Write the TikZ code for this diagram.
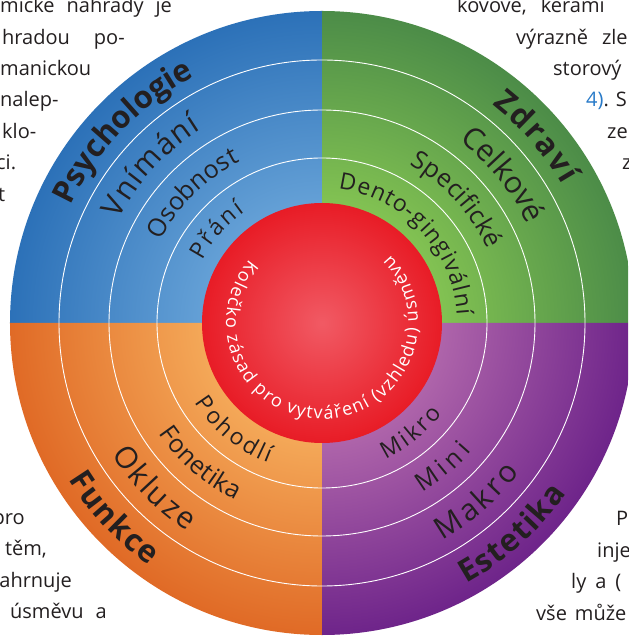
\documentclass[tikz,border=0pt]{standalone}
\usepackage{fontspec}
\setmainfont{Open Sans}
\usetikzlibrary{decorations.text}

\definecolor{psychout}{RGB}{44,113,184}
\definecolor{psychin}{RGB}{100,160,214}
\definecolor{zdraviout}{RGB}{76,140,72}
\definecolor{zdraviin}{RGB}{130,194,82}
\definecolor{funkceout}{RGB}{224,106,38}
\definecolor{funkcein}{RGB}{244,168,88}
\definecolor{estetout}{RGB}{110,36,138}
\definecolor{estetin}{RGB}{174,100,170}
\definecolor{kolout}{RGB}{232,28,38}
\definecolor{kolin}{RGB}{241,90,100}
\definecolor{textgray}{RGB}{35,31,32}
\definecolor{refblue}{RGB}{40,122,200}

\pgfdeclareradialshading{psychshade}{\pgfpointorigin}{color(0bp)=(psychin); color(9.6bp)=(psychin); color(25bp)=(psychout); color(50bp)=(psychout)}
\pgfdeclareradialshading{zdravishade}{\pgfpointorigin}{color(0bp)=(zdraviin); color(9.6bp)=(zdraviin); color(25bp)=(zdraviout); color(50bp)=(zdraviout)}
\pgfdeclareradialshading{funkceshade}{\pgfpointorigin}{color(0bp)=(funkcein); color(9.6bp)=(funkcein); color(25bp)=(funkceout); color(50bp)=(funkceout)}
\pgfdeclareradialshading{estetshade}{\pgfpointorigin}{color(0bp)=(estetin); color(9.6bp)=(estetin); color(25bp)=(estetout); color(50bp)=(estetout)}
\pgfdeclareradialshading{kolshade}{\pgfpointorigin}{color(0bp)=(kolin); color(25bp)=(kolout); color(50bp)=(kolout)}

\newcommand{\ringonefont}{\fontsize{31}{33}\selectfont\bfseries}
\newcommand{\ringtwofont}{\fontsize{30}{32}\selectfont}
\newcommand{\ringthreefont}{\fontsize{25}{27}\selectfont}
\newcommand{\ringfourfont}{\fontsize{23}{25}\selectfont}
\newcommand{\kolfont}{\fontsize{18}{20}\selectfont}

\tikzset{
    ringline/.style={draw=white, line width=0.9pt},
    ringlabel/.style 2 args={decorate, decoration={text along path, text align=fit to path, text color=textgray, text={|#1|#2}}},
    kollabel/.style={decorate, decoration={text along path, text align=fit to path, text color=white, text={|\kolfont|#1}}},
    pagetext/.style={font=\fontsize{20}{24}\selectfont, text=textgray, inner sep=0pt}
}

\begin{document}
\begin{tikzpicture}[x=1pt, y=1pt]

\useasboundingbox (-322,-313) rectangle (306,323);
\clip (-322,-313) rectangle (306,323);

% page text around the wheel
\node[pagetext, anchor=base west] (lt1) at (-322,310) {mické\hspace*{12pt}náhrady\hspace*{12pt}je};
\node[pagetext, anchor=base west] (lt2) at (-320,278) {hradou\hspace*{24pt}po-};
\node[pagetext, anchor=base west] (lt3) at (-322,247) {manickou};
\node[pagetext, anchor=base west] (lt4) at (-322,216) {nalep-};
\node[pagetext, anchor=base west] (lt5) at (-320,184) {klo-};
\node[pagetext, anchor=base west] (lt6) at (-326,153) {ci.};
\node[pagetext, anchor=base west] (lt7) at (-324,121) {t};

\node[pagetext, anchor=base west] (rt1) at (135,310) {kovové,\hspace*{14pt}kerami};
\node[pagetext, anchor=base west] (rt2) at (194,278) {výrazně\hspace*{14pt}zle};
\node[pagetext, anchor=base west] (rt3) at (231,247) {storový};
\node[pagetext, anchor=base west] (rt4) at (264,216) {\textcolor{refblue}{4)}. S};
\node[pagetext, anchor=base west] (rt5) at (285,184) {ze};
\node[pagetext, anchor=base west] (rt6) at (300,153) {z};

\node[pagetext, anchor=base east] (lb1) at (-297,-201) {pro};
\node[pagetext, anchor=base east] (lb2) at (-275,-232) {těm,};
\node[pagetext, anchor=base east] (lb3) at (-250,-264) {ahrnuje};
\node[pagetext, anchor=base east] (lb4) at (-215,-295) {úsměvu\hspace*{12pt}a};

\node[pagetext, anchor=base west] (rb1) at (294,-202) {P};
\node[pagetext, anchor=base west] (rb2) at (275,-234) {inje};
\node[pagetext, anchor=base west] (rb3) at (249,-265) {ly\hspace*{9pt}a\hspace*{9pt}(};
\node[pagetext, anchor=base west] (rb4) at (214,-297) {vše\hspace*{8pt}může};

% quadrants
\begin{scope}
    \clip (0,0) -- (180:312) arc[start angle=180, end angle=90, radius=312] -- cycle;
    \shade[shading=psychshade] (0,0) circle[radius=312];
\end{scope}
\begin{scope}
    \clip (0,0) -- (90:312) arc[start angle=90, end angle=0, radius=312] -- cycle;
    \shade[shading=zdravishade] (0,0) circle[radius=312];
\end{scope}
\begin{scope}
    \clip (0,0) -- (180:312) arc[start angle=180, end angle=270, radius=312] -- cycle;
    \shade[shading=funkceshade] (0,0) circle[radius=312];
\end{scope}
\begin{scope}
    \clip (0,0) -- (270:312) arc[start angle=270, end angle=360, radius=312] -- cycle;
    \shade[shading=estetshade] (0,0) circle[radius=312];
\end{scope}

\draw[ringline] (0,0) circle[radius=263] (0,0) circle[radius=213] (0,0) circle[radius=165];

\shade[shading=kolshade] (0,0) circle[radius=120];

% Psychologie
\path[ringlabel={\ringonefont}{Psychologie}] (155:277) arc[start angle=155, end angle=117.5, radius=277];
\path[ringlabel={\ringtwofont}{Vnímání}] (153:228) arc[start angle=153, end angle=122, radius=228];
\path[ringlabel={\ringthreefont}{Osobnost}] (153:181) arc[start angle=153, end angle=117, radius=181];
\path[ringlabel={\ringfourfont}{Přání}] (152.5:135) arc[start angle=152.5, end angle=125, radius=135];

% Zdravi
\path[ringlabel={\ringonefont}{Zdraví}] (52:277) arc[start angle=52, end angle=30, radius=277];
\path[ringlabel={\ringtwofont}{Celkové}] (53:228) arc[start angle=53, end angle=26, radius=228];
\path[ringlabel={\ringthreefont}{Specifické}] (61:181) arc[start angle=61, end angle=24, radius=181];
\path[ringlabel={\ringfourfont}{Dento-gingivální}] (83:135) arc[start angle=83, end angle=3.5, radius=135];

% Funkce
\path[ringlabel={\ringonefont}{Funkce}] (211.7:298) arc[start angle=211.7, end angle=234.5, radius=298];
\path[ringlabel={\ringtwofont}{Okluze}] (212:248) arc[start angle=212, end angle=237, radius=248];
\path[ringlabel={\ringthreefont}{Fonetika}] (214:197) arc[start angle=214, end angle=244, radius=197];
\path[ringlabel={\ringfourfont}{Pohodlí}] (212:150) arc[start angle=212, end angle=249, radius=150];

% Estetika
\path[ringlabel={\ringonefont}{Estetika}] (299:298) arc[start angle=299, end angle=325, radius=298];
\path[ringlabel={\ringtwofont}{Makro}] (299:248) arc[start angle=299, end angle=323, radius=248];
\path[ringlabel={\ringthreefont}{Mini}] (300.7:197) arc[start angle=300.7, end angle=319.4, radius=197];
\path[ringlabel={\ringfourfont}{Mikro}] (295:150) arc[start angle=295, end angle=323, radius=150];

% kolecko
\path[kollabel={Kolečko zásad pro vytváření (vzhledu) úsměvu}] (139:96) arc[start angle=139, end angle=405, radius=96];

\end{tikzpicture}
\end{document}
